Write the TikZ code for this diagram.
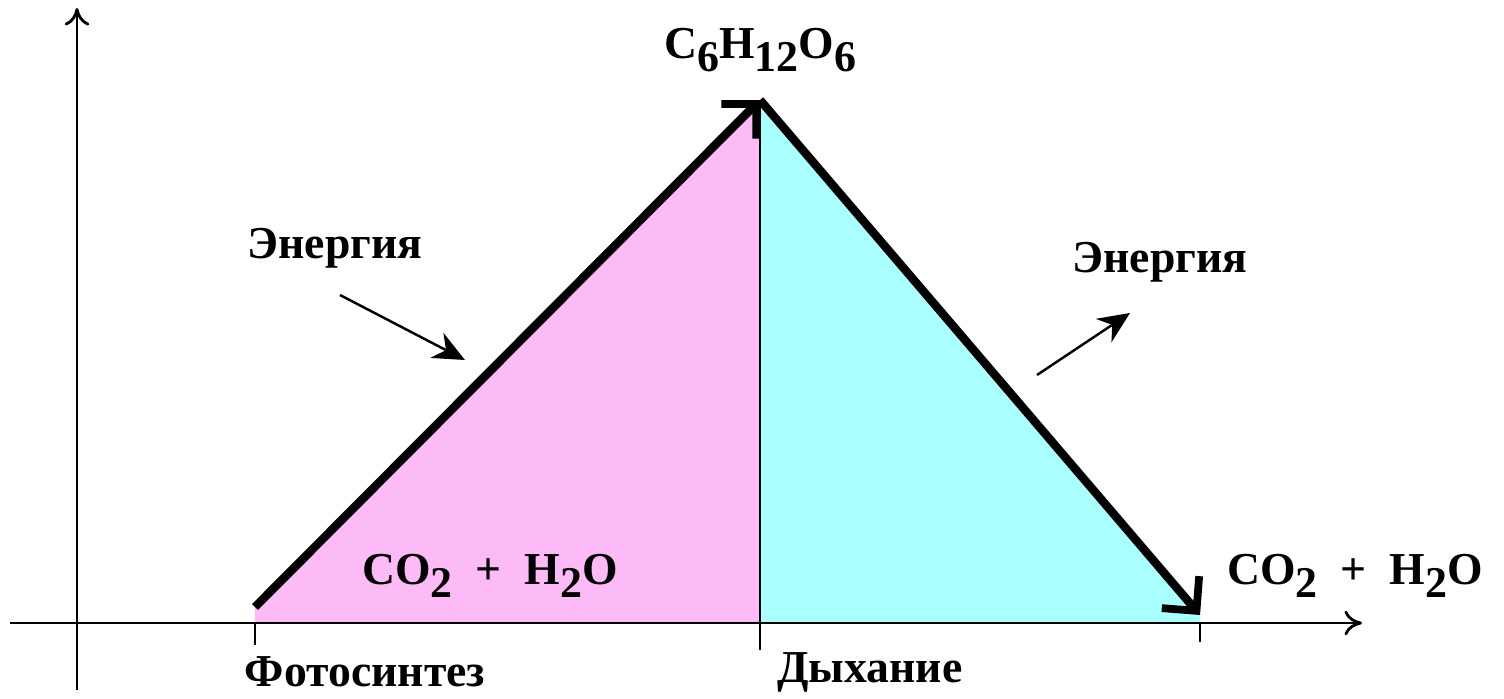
\documentclass[tikz,border=0pt]{standalone}
\usepackage{fontspec}
\setmainfont{Liberation Serif}
\usepackage{tikz}
\usetikzlibrary{arrows.meta,calc}

\definecolor{photopink}{RGB}{252,187,246}
\definecolor{respcyan}{RGB}{170,255,255}
\newcommand{\chsub}[1]{\raisebox{-0.6ex}{\fontsize{12.5}{12.5}\selectfont #1}}

\begin{document}
\begin{tikzpicture}[
  lbl/.style={font=\fontsize{13}{15}\selectfont\bfseries, inner sep=1pt},
  axis/.style={line width=0.8pt, -{To[length=5pt,width=7pt]}},
  tick/.style={line width=0.8pt},
  path/.style={line width=2.4pt, -{Straight Barb[length=7pt,width=14pt,line width=2.2pt]}},
  en/.style={line width=0.7pt, -{Stealth[length=9pt,width=8pt]}}
]
\useasboundingbox (0,0) rectangle (15.04,6.98);
% points of the scheme
\coordinate (O) at (0.77,0.75);
\coordinate (ybot) at (0.77,0.08);
\coordinate (ytop) at (0.77,6.90);
\coordinate (xl) at (0.10,0.75);
\coordinate (xr) at (13.62,0.75);
\coordinate (s) at (2.55,0.91);
\coordinate (sb) at (2.55,0.75);
\coordinate (g) at (7.60,5.98);
\coordinate (gb) at (7.60,0.75);
\coordinate (e) at (12.00,0.83);
\coordinate (eb) at (12.00,0.75);
% fills
\fill[photopink] (sb) -- (s) -- (g) -- (gb) -- cycle;
\fill[respcyan] (g) -- (e) -- (eb) -- (gb) -- cycle;
% axes
\draw[axis] (ybot) -- (ytop);
\draw[axis] (xl) -- (xr);
\draw[tick] (g) -- ($(gb)+(0,-0.27)$);
\draw[tick] (sb) -- ++(0,-0.22);
\draw[tick] (eb) -- ++(0,-0.19);
% main arrows
\draw[path] (s) -- (g);
\draw[path] (g) -- (e);
% labels
\node[lbl] (glc) at (7.60,6.48) {C\chsub{6}H\chsub{12}O\chsub{6}};
\node[lbl] (lin) at (4.90,1.22) {CO\chsub{2}\enspace+\enspace H\chsub{2}O};
\node[lbl] (rout) at (13.55,1.22) {CO\chsub{2}\enspace+\enspace H\chsub{2}O};
\node[lbl] (enl) at (3.35,4.50) {Энергия};
\node[lbl] (enr) at (11.60,4.36) {Энергия};
\node[lbl] (ph) at (3.65,0.26) {Фотосинтез};
\node[lbl] (re) at (8.70,0.26) {Дыхание};
% energy arrows
\coordinate (a1) at (3.40,4.03);
\coordinate (a2) at (4.65,3.38);
\coordinate (b1) at (10.37,3.23);
\coordinate (b2) at (11.30,3.85);
\draw[en] (a1) -- (a2);
\draw[en] (b1) -- (b2);
\end{tikzpicture}
\end{document}
